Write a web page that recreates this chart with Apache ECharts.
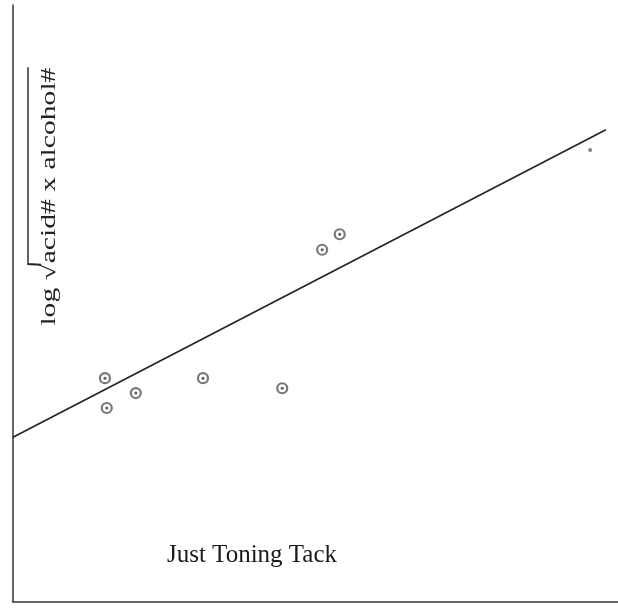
<!DOCTYPE html>
<html>
<head>
<meta charset="utf-8">
<script src="https://cdn.jsdelivr.net/npm/echarts@6/dist/echarts.min.js"></script>
<style>
html,body{margin:0;padding:0;background:#fff;}
#chart{width:618px;height:612px;}
</style>
</head>
<body>
<div id="chart"></div>
<script>
// measured points (arbitrary units, no scale printed on the original)
var pointX = [1.52, 1.55, 2.03, 3.14, 4.45, 5.11, 5.40];
var pointY = [3.75, 3.25, 3.50, 3.75, 3.58, 5.90, 6.16];
var oddX = [9.54];
var oddY = [7.57];
// fitted straight line
var lineX = [0, 9.80];
var lineY = [2.76, 7.91];

function pairs(xs, ys){
	var out = [];
	for(var i=0;i<xs.length;i++){
		out.push([xs[i], ys[i]]);
	}
	return out;
}

var chart = echarts.init(document.getElementById("chart"));
var serif = '"Liberation Serif", "DejaVu Serif", serif';
var ink = '#222';

var option = {
	backgroundColor: '#fff',
	animation: false,
	grid: {
		left: 13,
		right: 0,
		top: 5,
		bottom: 10
	},
	xAxis: {
		type: 'value',
		min: 0,
		max: 10,
		axisLine: {show: true, onZero: false, lineStyle: {color: '#333', width: 1.5}},
		axisTick: {show: false},
		axisLabel: {show: false},
		splitLine: {show: false}
	},
	yAxis: {
		type: 'value',
		min: 0,
		max: 10,
		axisLine: {show: true, onZero: false, lineStyle: {color: '#333', width: 1.5}},
		axisTick: {show: false},
		axisLabel: {show: false},
		splitLine: {show: false}
	},
	series: [
		{
			type: 'line',
			data: pairs(lineX, lineY),
			symbol: 'none',
			lineStyle: {color: ink, width: 1.6}
		},
		{
			// ring of each marker
			type: 'scatter',
			data: pairs(pointX, pointY),
			symbol: 'circle',
			symbolSize: 10,
			itemStyle: {color: '#fff', borderColor: '#555', borderWidth: 2.2}
		},
		{
			// dot in the centre
			type: 'scatter',
			data: pairs(pointX, pointY),
			symbol: 'circle',
			symbolSize: 3,
			itemStyle: {color: '#333'}
		},
		{
			type: 'scatter',
			data: pairs(oddX, oddY),
			symbol: 'circle',
			symbolSize: 4,
			itemStyle: {color: '#666'}
		}
	],
	graphic: [
		{
			type: 'text',
			x: 252,
			y: 555,
			style: {
				text: 'Just Toning Tack',
				font: '25px ' + serif,
				fill: '#1a1a1a',
				align: 'center',
				verticalAlign: 'middle',
				textAlign: 'center',
				textVerticalAlign: 'middle'
			}
		},
		{
			// y label, stretched along its length like the scan
			type: 'group',
			x: 49,
			y: 197,
			rotation: Math.PI / 2,
			scaleX: 1.41,
			children: [
				{
					type: 'text',
					x: -47.6,
					y: 0,
					style: {
						text: 'log \u221A',
						font: '21px ' + serif,
						fill: ink,
						align: 'right',
						verticalAlign: 'middle',
						textAlign: 'right',
						textVerticalAlign: 'middle'
					}
				},
				{
					type: 'text',
					x: -47,
					y: 0,
					style: {
						text: 'acid# x alcohol#',
						font: '21px ' + serif,
						fill: ink,
						align: 'left',
						verticalAlign: 'middle',
						textAlign: 'left',
						textVerticalAlign: 'middle'
					}
				},
				{
					type: 'polyline',
					shape: {points: [[-48, -8], [-47.5, -21], [92, -21]]},
					style: {stroke: ink, lineWidth: 1.4, fill: null}
				}
			]
		}
	]
};
chart.setOption(option);
</script>
</body>
</html>
